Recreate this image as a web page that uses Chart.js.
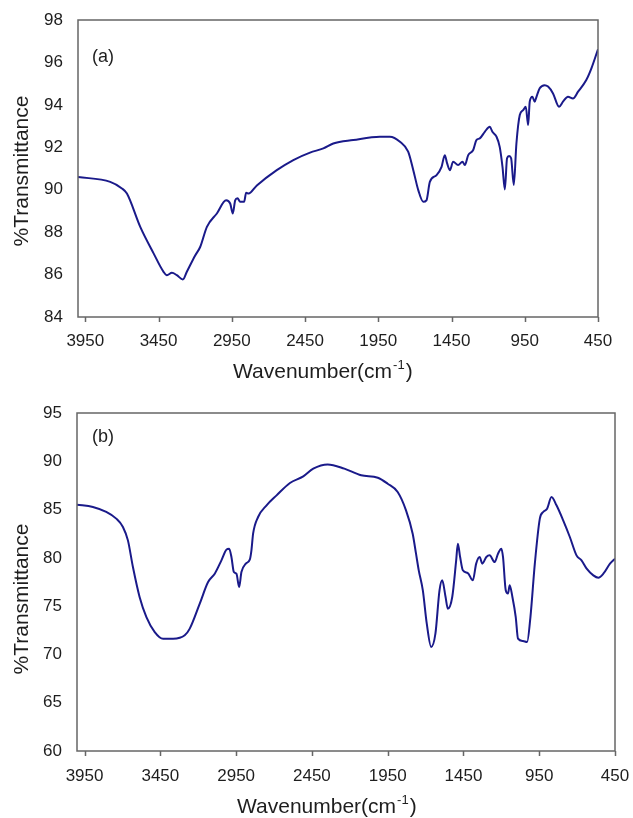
<!DOCTYPE html>
<html>
<head>
<meta charset="utf-8">
<script src="https://cdn.jsdelivr.net/npm/chart.js@4.4.1/dist/chart.umd.min.js"></script>
<style>
  body { margin: 0; background: #fff; }
  canvas { position: absolute; left: 0; }
  #chartA { top: 0; }
  #chartB { top: 395px; }
</style>
</head>
<body>
<canvas id="chartA" width="633" height="395"></canvas>
<canvas id="chartB" width="633" height="423"></canvas>
<script>
// x ticks shared by both panels
const wavenumberTicks = [3950, 3450, 2950, 2450, 1950, 1450, 950, 450];

// panel (a)
const wavenumberA = [4000, 3780, 3700, 3666, 3575, 3484, 3416, 3393, 3359, 3325,
  3284, 3257, 3200, 3166, 3120, 3052, 2989, 2961, 2943, 2927,
  2911, 2893, 2866, 2852, 2836, 2779, 2643, 2530, 2416, 2325,
  2257, 2121, 1939, 1871, 1802, 1746, 1711, 1677, 1643, 1621,
  1598, 1552, 1518, 1496, 1480, 1461, 1439, 1405, 1375, 1359,
  1336, 1302, 1280, 1257, 1223, 1189, 1171, 1143, 1121, 1102,
  1086, 1071, 1057, 1043, 1025, 1007, 984, 961, 943, 927,
  916, 898, 882, 870, 848, 814, 791, 757, 716, 689,
  655, 621, 586, 530, 495, 450];
const transmittanceA = [90.6, 90.37, 90.06, 89.82, 88.25, 87.0, 86.13, 85.97, 86.08, 85.97,
  85.77, 86.13, 86.9, 87.3, 88.25, 88.88, 89.5, 89.35, 88.88, 89.5,
  89.6, 89.43, 89.43, 89.86, 89.82, 90.2, 90.92, 91.4, 91.75, 91.95,
  92.18, 92.34, 92.5, 92.5, 92.26, 91.79, 90.92, 89.98, 89.43, 89.5,
  90.37, 90.69, 91.08, 91.63, 91.24, 90.92, 91.32, 91.16, 91.32, 91.16,
  91.63, 91.87, 92.34, 92.42, 92.73, 92.97, 92.73, 92.5, 92.02, 91.08,
  90.01, 91.48, 91.59, 91.48, 90.22, 92.18, 93.52, 93.75, 93.91, 93.05,
  94.15, 94.38, 94.15, 94.38, 94.78, 94.93, 94.86, 94.54, 93.91, 94.15,
  94.38, 94.3, 94.62, 95.17, 95.72, 96.62];

// panel (b)
const wavenumberB = [4000, 3895, 3807, 3741, 3697, 3664, 3631, 3587, 3542, 3487,
  3432, 3366, 3289, 3256, 3190, 3135, 3091, 3047, 3014, 2996,
  2981, 2965, 2948, 2930, 2915, 2886, 2860, 2849, 2838, 2805,
  2749, 2683, 2595, 2507, 2441, 2346, 2236, 2125, 2015, 1950,
  1884, 1829, 1785, 1763, 1745, 1718, 1692, 1663, 1635, 1608,
  1590, 1568, 1553, 1524, 1498, 1487, 1472, 1454, 1421, 1388,
  1366, 1343, 1326, 1299, 1277, 1244, 1222, 1200, 1189, 1171,
  1156, 1145, 1127, 1105, 1090, 1057, 1030, 1008, 979, 946,
  924, 898, 869, 836, 792, 748, 704, 671, 637, 593,
  560, 527, 483, 450];
const transmittanceB = [85.5, 85.27, 84.75, 84.06, 83.2, 81.81, 79.05, 75.95, 73.87, 72.32,
  71.63, 71.63, 71.98, 72.67, 75.26, 77.5, 78.36, 79.74, 80.85, 80.95,
  80.09, 78.53, 78.36, 76.98, 78.53, 79.4, 79.81, 80.78, 82.5, 84.23,
  85.44, 86.47, 87.75, 88.44, 89.24, 89.68, 89.24, 88.55, 88.3, 87.68,
  86.82, 84.92, 82.5, 80.43, 78.71, 76.64, 73.18, 70.77, 72.15, 76.64,
  77.67, 75.95, 74.74, 75.95, 79.74, 81.47, 80.09, 78.71, 78.43, 77.67,
  79.4, 80.09, 79.4, 80.09, 80.26, 79.57, 80.43, 80.95, 80.09, 76.64,
  76.3, 77.16, 75.95, 73.87, 71.63, 71.39, 71.29, 73.87, 79.4, 84.06,
  84.75, 85.09, 86.3, 85.44, 83.88, 82.16, 80.26, 79.74, 78.88, 78.19,
  77.95, 78.36, 79.4, 79.92];

const FONT = '"Liberation Sans", Arial, Helvetica, sans-serif';
const INK = '#1e1e1e';
const LINE = '#1a1a8a';
const CLEAR = 'rgba(0,0,0,0)';

// frame box, x tick marks, panel tag and axis titles
const framePlugin = {
  id: 'frame',
  afterDraw(chart, args, o) {
    const { ctx, chartArea: a } = chart;
    const xs = chart.scales.x;
    ctx.save();
    ctx.strokeStyle = '#666';
    ctx.lineWidth = 1.5;
    ctx.strokeRect(a.left, a.top, a.right - a.left, a.bottom - a.top);
    ctx.beginPath();
    xs.ticks.forEach(t => {
      const px = Math.round(xs.getPixelForValue(t.value)) + 0.5;
      ctx.moveTo(px, a.bottom);
      ctx.lineTo(px, a.bottom + 5);
    });
    ctx.stroke();

    ctx.fillStyle = INK;
    ctx.textBaseline = 'middle';
    ctx.textAlign = 'left';
    ctx.font = '18px ' + FONT;
    ctx.fillText(o.tag, o.tagX, o.tagY);

    // y title
    ctx.save();
    ctx.translate(o.yTitleX, o.yTitleY);
    ctx.rotate(-Math.PI / 2);
    ctx.textAlign = 'center';
    ctx.font = '21px ' + FONT;
    ctx.fillText('%Transmittance', 0, 0);
    ctx.restore();

    // x title with superscript -1
    ctx.textBaseline = 'alphabetic';
    ctx.font = '21px ' + FONT;
    let x = o.xTitleX;
    const base = o.xTitleY;
    ctx.fillText('Wavenumber(cm', x, base);
    x += ctx.measureText('Wavenumber(cm').width;
    ctx.font = '13px ' + FONT;
    ctx.fillText('-1', x + 1, base - 9);
    x += ctx.measureText('-1').width + 2;
    ctx.font = '21px ' + FONT;
    ctx.fillText(')', x, base);
    ctx.restore();
  }
};

function makeChart(id, wn, tr, yMin, yMax, yStep, pad, xAxisHeight, xGap, frame) {
  const points = wn.map((w, i) => ({ x: w, y: tr[i] }));
  return new Chart(document.getElementById(id), {
    type: 'scatter',
    data: {
      datasets: [{
        data: points,
        showLine: true,
        borderColor: LINE,
        borderWidth: 2,
        pointRadius: 0,
        cubicInterpolationMode: 'monotone'
      }]
    },
    options: {
      responsive: false,
      animation: false,
      devicePixelRatio: 1,
      layout: { padding: pad },
      plugins: {
        legend: { display: false },
        tooltip: { enabled: false },
        frame: frame
      },
      scales: {
        x: {
          type: 'linear',
          min: 450,
          max: 4000,
          reverse: true,
          afterBuildTicks: s => { s.ticks = wavenumberTicks.map(v => ({ value: v })); },
          afterFit: s => { s.height = xAxisHeight; },
          border: { display: false },
          grid: { drawOnChartArea: false, drawTicks: true, tickLength: xGap, color: CLEAR },
          ticks: { color: INK, font: { family: FONT, size: 17 }, padding: 2, maxRotation: 0, autoSkip: false,
            callback: v => String(v) }
        },
        y: {
          min: yMin,
          max: yMax,
          afterFit: s => { s.width = pad.yWidth; },
          border: { display: false },
          grid: { drawOnChartArea: false, drawTicks: true, tickLength: 14, color: CLEAR },
          ticks: { stepSize: yStep, color: INK, font: { family: FONT, size: 17 }, padding: 1 }
        }
      }
    },
    plugins: [framePlugin]
  });
}

makeChart('chartA', wavenumberA, transmittanceA, 84, 98, 2,
  { top: 20, right: 35, left: 0, bottom: 0, yWidth: 78 }, 78, 12,
  { tag: '(a)', tagX: 92, tagY: 57, yTitleX: 22, yTitleY: 171, xTitleX: 233, xTitleY: 378 });

makeChart('chartB', wavenumberB, transmittanceB, 60, 95, 5,
  { top: 18, right: 18, left: 0, bottom: 0, yWidth: 77 }, 67, 13,
  { tag: '(b)', tagX: 92, tagY: 42, yTitleX: 22, yTitleY: 204, xTitleX: 237, xTitleY: 418 });
</script>
</body>
</html>
